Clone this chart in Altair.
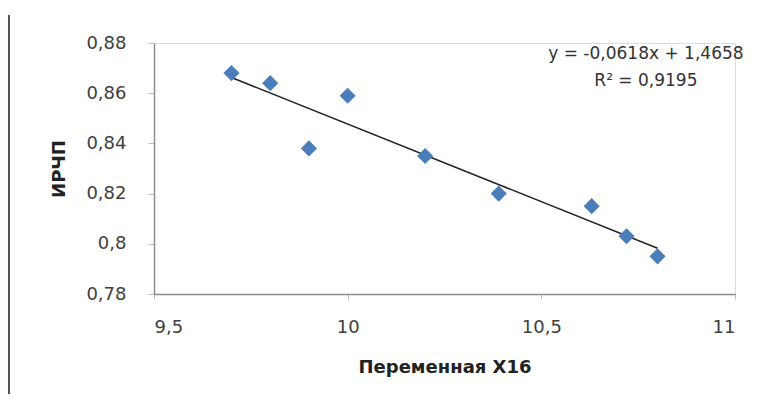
import altair as alt
import pandas as pd

x_vals = [9.70, 9.80, 9.90, 10.00, 10.20, 10.39, 10.63, 10.72, 10.80]
y_vals = [0.868, 0.864, 0.838, 0.859, 0.835, 0.820, 0.815, 0.803, 0.795]
eq_lines = ["y = -0,0618x + 1,4658", "R\u00b2 = 0,9195"]
eq_x = [10.77, 10.77]
eq_y = [0.8755, 0.8648]

df = pd.DataFrame({"x": x_vals, "y": y_vals})
eq = pd.DataFrame({"t": eq_lines, "x": eq_x, "y": eq_y})

FONT = "DejaVu Sans"
LBL = "#404040"

xs = alt.Scale(domain=[9.5, 11], nice=False, zero=False)
ys = alt.Scale(domain=[0.78, 0.88], nice=False, zero=False)

base = alt.Chart(df)

pts = base.mark_point(shape="diamond", filled=True, size=260, color="#4a7ebb", opacity=1).encode(
    x=alt.X("x:Q", scale=xs, axis=alt.Axis(
        values=[9.5, 10, 10.5, 11], title="Переменная X16",
        labelExpr="replace(format(datum.value, '.1~f'), '.', ',')",
        domainColor="#8c8c8c", domainWidth=1.5, tickColor="#bbbbbb", tickSize=5,
        labelFont=FONT, labelFontSize=18, labelColor=LBL, labelPadding=19,
        titleFont=FONT, titleFontSize=18, titleFontWeight="bold", titleColor="#222222",
        titlePadding=22, grid=False)),
    y=alt.Y("y:Q", scale=ys, axis=alt.Axis(
        values=[0.78, 0.8, 0.82, 0.84, 0.86, 0.88], title="ИРЧП",
        labelExpr="replace(format(datum.value, '.2~f'), '.', ',')",
        domainColor="#8c8c8c", domainWidth=1.5, tickColor="#bbbbbb", tickSize=6,
        labelFont=FONT, labelFontSize=18, labelColor=LBL, labelPadding=22,
        titleFont=FONT, titleFontSize=18, titleFontWeight="bold", titleColor="#222222",
        titlePadding=17, grid=False)),
)

trend = base.transform_regression("x", "y").mark_line(color="#222222", strokeWidth=1.5).encode(
    x=alt.X("x:Q", scale=xs), y=alt.Y("y:Q", scale=ys))

txt = alt.Chart(eq).mark_text(font=FONT, fontSize=17, color="#333333", align="center").encode(
    x=alt.X("x:Q", scale=xs), y=alt.Y("y:Q", scale=ys), text="t:N")

border = alt.Chart(df).mark_rule(color="#555555", strokeWidth=1.5).encode(
    x=alt.value(-145), y=alt.value(-28), y2=alt.value(420))

chart = alt.layer(border, trend, pts, txt).properties(
    width=581, height=251,
    autosize=alt.AutoSizeParams(type="none"),
    padding={"left": 146, "top": 35, "right": 20, "bottom": 100},
).configure_view(stroke=None).configure(background="white")

chart.save("out.html", embed_options={"renderer": "svg", "actions": False})
